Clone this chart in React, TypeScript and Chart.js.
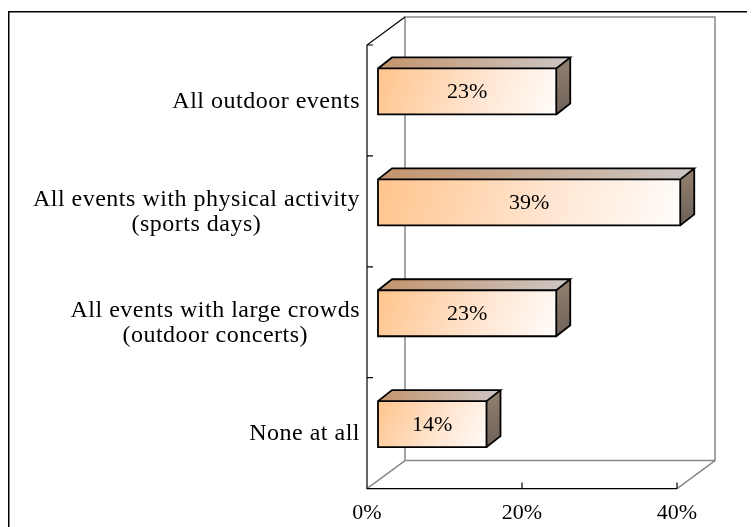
import React, { useEffect, useRef } from "react";
import { Chart, registerables } from "chart.js";

Chart.register(...registerables);

const categories: string[][] = [
  ["All outdoor events"],
  ["All events with physical activity", "(sports days)"],
  ["All events with large crowds", "(outdoor concerts)"],
  ["None at all"],
];
const values: number[] = [23, 39, 23, 14];
const xTickValues: number[] = [0, 20, 40];
const xMin = 0;
const xMax = 40;

const FONT = '"Liberation Serif", "Times New Roman", serif';

// 3D geometry (pixels)
const WALL_DX = 38;
const WALL_DY = -28;
const BAR_OFF_X = 11;
const BAR_OFF_Y = -9;
const BAR_DX = 14;
const BAR_DY = -11;

const CANVAS_W = 747;
const CANVAS_H = 532;

const threeDPlugin = {
  id: "threeD",
  beforeDatasetsDraw(chart: any) {
    const { ctx, chartArea } = chart;
    const { left, right, top, bottom } = chartArea;
    const xs = chart.scales.x;
    const ys = chart.scales.y;
    ctx.save();

    // outer frame
    ctx.strokeStyle = "#000";
    ctx.lineWidth = 1.5;
    ctx.beginPath();
    ctx.moveTo(0.75, chart.height + 2);
    ctx.lineTo(0.75, 3.75);
    ctx.lineTo(chart.width + 2, 3.75);
    ctx.stroke();

    // back wall and floor (gray)
    ctx.strokeStyle = "#888";
    ctx.lineWidth = 1.5;
    ctx.beginPath();
    ctx.rect(left + WALL_DX, top + WALL_DY, right - left, bottom - top);
    ctx.moveTo(left, bottom);
    ctx.lineTo(left + WALL_DX, bottom + WALL_DY);
    ctx.moveTo(right, bottom);
    ctx.lineTo(right + WALL_DX, bottom + WALL_DY);
    ctx.stroke();

    // front axes (black)
    ctx.strokeStyle = "#000";
    ctx.lineWidth = 1.2;
    ctx.beginPath();
    ctx.moveTo(left + WALL_DX, top + WALL_DY);
    ctx.lineTo(left, top);
    ctx.lineTo(left, bottom);
    ctx.lineTo(right, bottom);
    const n = categories.length;
    const bounds: number[] = [top];
    for (let i = 0; i < n - 1; i++) {
      bounds.push((ys.getPixelForValue(i) + ys.getPixelForValue(i + 1)) / 2);
    }
    bounds.forEach((y) => {
      ctx.moveTo(left, y);
      ctx.lineTo(left + 6, y);
    });
    xTickValues.forEach((v) => {
      const x = xs.getPixelForValue(v);
      if (v === xMin) return;
      ctx.moveTo(x, bottom);
      ctx.lineTo(x, bottom - 6);
    });
    ctx.stroke();
    ctx.restore();
  },
  afterDatasetsDraw(chart: any) {
    const { ctx } = chart;
    const ys = chart.scales.y;
    const meta = chart.getDatasetMeta(0);
    ctx.save();

    meta.data.forEach((el: any, i: number) => {
      const p = el.getProps(["x", "y", "base", "height"], true);
      const fx0 = p.base + BAR_OFF_X;
      const fx1 = p.x + BAR_OFF_X;
      const fy0 = p.y - p.height / 2 + BAR_OFF_Y;
      const fy1 = fy0 + p.height;

      // top face
      const tg = ctx.createLinearGradient(fx0, 0, fx1 + BAR_DX, 0);
      tg.addColorStop(0, "#C4946C");
      tg.addColorStop(1, "#CCC6C4");
      ctx.fillStyle = tg;
      ctx.beginPath();
      ctx.moveTo(fx0, fy0);
      ctx.lineTo(fx0 + BAR_DX, fy0 + BAR_DY);
      ctx.lineTo(fx1 + BAR_DX, fy0 + BAR_DY);
      ctx.lineTo(fx1, fy0);
      ctx.closePath();
      ctx.fill();

      // side face
      const sg = ctx.createLinearGradient(fx1, fy0, fx1 + BAR_DX, fy1);
      sg.addColorStop(0, "#8E7C6C");
      sg.addColorStop(1, "#6C6058");
      ctx.fillStyle = sg;
      ctx.beginPath();
      ctx.moveTo(fx1, fy0);
      ctx.lineTo(fx1 + BAR_DX, fy0 + BAR_DY);
      ctx.lineTo(fx1 + BAR_DX, fy1 + BAR_DY);
      ctx.lineTo(fx1, fy1);
      ctx.closePath();
      ctx.fill();

      // front face
      const fg = ctx.createLinearGradient(fx0, fy0, fx1, fy1 + (fx1 - fx0) * 0.15);
      fg.addColorStop(0, "#FFC48C");
      fg.addColorStop(0.55, "#FFE6D2");
      fg.addColorStop(1, "#FFFFFF");
      ctx.fillStyle = fg;
      ctx.fillRect(fx0, fy0, fx1 - fx0, fy1 - fy0);

      // outlines
      ctx.strokeStyle = "#000";
      ctx.lineWidth = 1.8;
      ctx.lineJoin = "miter";
      ctx.beginPath();
      ctx.rect(fx0, fy0, fx1 - fx0, fy1 - fy0);
      ctx.moveTo(fx0, fy0);
      ctx.lineTo(fx0 + BAR_DX, fy0 + BAR_DY);
      ctx.lineTo(fx1 + BAR_DX, fy0 + BAR_DY);
      ctx.lineTo(fx1, fy0);
      ctx.moveTo(fx1 + BAR_DX, fy0 + BAR_DY);
      ctx.lineTo(fx1 + BAR_DX, fy1 + BAR_DY);
      ctx.lineTo(fx1, fy1);
      ctx.stroke();

      // value label
      ctx.fillStyle = "#000";
      ctx.font = `22px ${FONT}`;
      ctx.textAlign = "center";
      ctx.textBaseline = "middle";
      ctx.fillText(`${values[i]}%`, (fx0 + fx1) / 2, (fy0 + fy1) / 2 + 1);
    });

    // category labels
    ctx.font = `24px ${FONT}`;
    (ctx as any).letterSpacing = "0.5px";
    ctx.fillStyle = "#000";
    ctx.textAlign = "center";
    ctx.textBaseline = "middle";
    const rightEdge = chart.chartArea.left - 7;
    const lineH = 25;
    categories.forEach((lines, i) => {
      const cy = ys.getPixelForValue(i) + 1;
      const maxW = Math.max(...lines.map((l) => ctx.measureText(l).width));
      const cx = rightEdge - maxW / 2;
      lines.forEach((line, j) => {
        const ly = cy + (j - (lines.length - 1) / 2) * lineH;
        ctx.fillText(line, cx, ly);
      });
    });
    (ctx as any).letterSpacing = "0px";
    ctx.restore();
  },
};

export default function App() {
  const canvasRef = useRef<HTMLCanvasElement | null>(null);

  useEffect(() => {
    if (!canvasRef.current) return;
    const chart = new Chart(canvasRef.current, {
      type: "bar",
      data: {
        labels: categories.map((c) => c.join(" ")),
        datasets: [
          {
            data: values,
            backgroundColor: "rgba(0,0,0,0)",
            borderWidth: 0,
            categoryPercentage: 1,
            barPercentage: 0.415,
          },
        ],
      },
      options: {
        indexAxis: "y",
        responsive: false,
        animation: false,
        devicePixelRatio: 1,
        layout: { padding: { left: 359, right: 78, top: 37, bottom: 3 } },
        scales: {
          x: {
            min: xMin,
            max: xMax,
            ticks: {
              stepSize: 20,
              callback: (v: any) => `${v}%`,
              color: "#000",
              font: { family: FONT, size: 22 },
              padding: 11,
              maxRotation: 0,
            },
            grid: { display: false, drawTicks: false },
            border: { display: false },
          },
          y: { display: false },
        },
        plugins: { legend: { display: false }, tooltip: { enabled: false } },
      },
      plugins: [threeDPlugin],
    });
    return () => chart.destroy();
  }, []);

  return (
    <div style={{ width: CANVAS_W, height: CANVAS_H }}>
      <canvas ref={canvasRef} width={CANVAS_W} height={CANVAS_H} style={{ display: "block" }} />
    </div>
  );
}
